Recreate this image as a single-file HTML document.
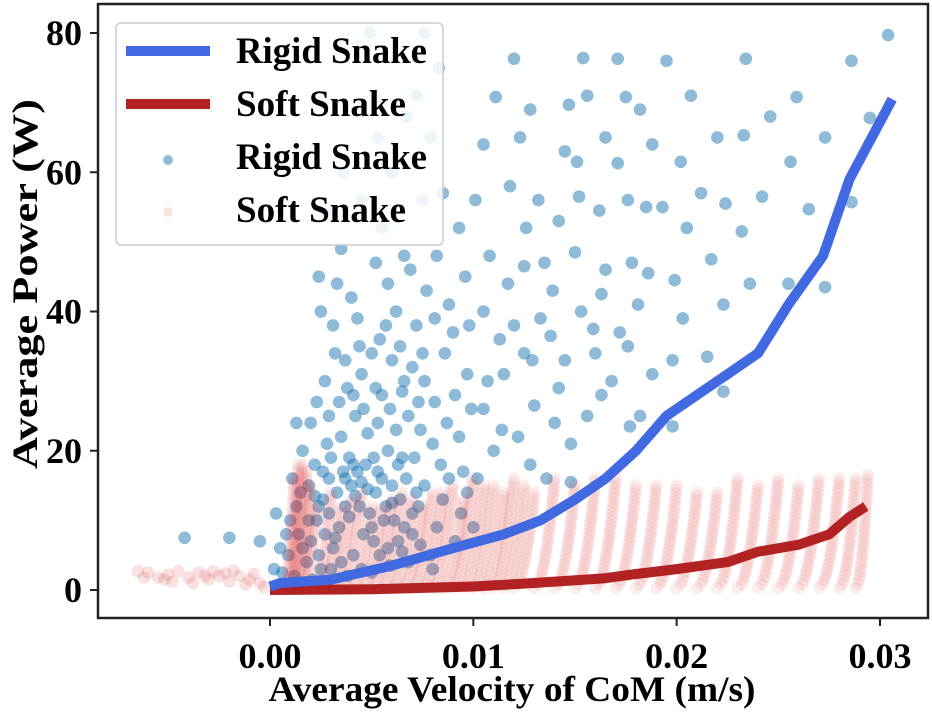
<!DOCTYPE html>
<html><head><meta charset="utf-8"><style>
html,body{margin:0;padding:0;background:#fff;}
svg{display:block;font-family:"Liberation Serif",serif;font-weight:bold;}
</style></head><body>
<svg id="chart" width="932" height="712">
<g id="points"></g>
<g id="lines"></g>
<rect x="98" y="4" width="830" height="614" fill="none" stroke="#222" stroke-width="2.5"/>
<g id="axes"></g>
<text x="512" y="701" text-anchor="middle" font-size="36" textLength="487" lengthAdjust="spacingAndGlyphs">Average Velocity of CoM (m/s)</text>
<text transform="translate(37,284) rotate(-90)" text-anchor="middle" font-size="36" textLength="370" lengthAdjust="spacingAndGlyphs">Average Power (W)</text>
<g>
<rect x="116" y="23" width="327" height="222" rx="5" fill="#fff" fill-opacity="0.85" stroke="#ccc" stroke-width="1.5"/>
<g><line x1="126" y1="51" x2="210" y2="51" stroke="#4169e1" stroke-width="10"/><text x="236" y="63" font-size="37" textLength="191" lengthAdjust="spacingAndGlyphs">Rigid Snake</text></g>
<g><line x1="126" y1="104" x2="210" y2="104" stroke="#b22222" stroke-width="10"/><text x="236" y="116" font-size="37" textLength="170" lengthAdjust="spacingAndGlyphs">Soft Snake</text></g>
<g><circle cx="168" cy="160" r="5" fill="#1f77b4" fill-opacity="0.5"/><text x="236" y="169" font-size="37" textLength="191" lengthAdjust="spacingAndGlyphs">Rigid Snake</text></g>
<g><circle cx="168" cy="212" r="5" fill="#d62728" fill-opacity="0.12"/><text x="236" y="222" font-size="37" textLength="170" lengthAdjust="spacingAndGlyphs">Soft Snake</text></g>
</g>
</svg>
<script>
// velocities in mm/s (x1e-3 m/s), power in W
const xTicks=[0,10,20,30];
const xTickLabels=["0.00","0.01","0.02","0.03"];
const yTicks=[0,20,40,60,80];
const yTickLabels=["0","20","40","60","80"];
const rigidLine=[[0,0.5],[0.5,1],[3,1.5],[6,3.5],[9,6],[11.5,8],[13.3,10],[15,13],[16.5,16],[18,20],[19.5,25],[21,28],[22.5,31],[24,34],[25.5,41],[27.2,48],[28.5,59],[30.6,70.5]];
const softLine=[[0,0],[5,0.1],[10,0.5],[13,1],[16.5,1.7],[18,2.3],[20,3],[22.5,4],[24,5.5],[26,6.5],[27.5,8],[28.5,10.5],[29.3,12]];
const rigidPoints=[[15.4,76.4],[17.1,76.3],[19.5,76],[23.4,76.3],[28.6,76],[30.4,79.7],[12,76.3],
[11.1,70.8],[15.6,71],[17.5,70.8],[20.7,71],[25.9,70.8],[12.8,69],[18.2,69],[24.6,68],[14.7,69.7],
[12.3,65],[14.5,63],[16.5,65],[18.8,64],[22,65],[23.3,65.3],[25.6,61.5],[27.3,65],[29.5,67.8],[10.5,64],[20.2,61.5],[17.1,61.3],[15.1,61.5],
[11.8,58],[13.2,56],[15.2,56.5],[17.6,56],[19.3,55],[21.2,57],[22.4,55.5],[24.2,56.5],[26.5,54.7],[28.6,55.7],[10.1,56],[12.6,52],[14.2,53],[16.2,54.5],[18.5,55],[20.5,52],[23.2,51.5],
[10.8,48],[12.5,46.5],[13.5,47],[15,48.5],[16.5,46],[17.8,47],[19.9,44.5],[21.7,47.5],[23.6,44],[25.5,44],[27.3,43.5],[11.7,44],[13.9,43],[16.3,42.5],[18.6,45.5],[20.3,39],[22.3,41],
[10.5,40],[11.3,36],[12,38],[12.9,33],[13.8,36.5],[14.5,33],[15.3,40],[16,34],[17.2,37],[18.8,31],[19.8,33],[21.5,33.5],[22.3,28.5],[10.7,30],[11.5,31],[12.5,34],[14.2,29],[16.8,30],[17.6,35],[18.1,41],[13.3,39],[15.9,37.5],
[10.5,26],[11.4,23],[12.2,22],[13,26.5],[14,24],[14.8,21],[15.6,25],[16.3,28],[17.7,23.5],[18.2,25],[19.8,23.5],[12.8,18],[11,20],[13.6,16],[14.8,15.5],[10.2,16],
[4.9,80],[7.6,80],[8.3,75],[7.2,71],[6.7,68],[5.3,65],[7.9,65],[3.6,60],[6,60],[4.5,56],[7.5,56],[8.5,57],[2.9,54],[5.5,52],[3.5,49],[6.6,48],[8.2,48],[9.3,52],[2.4,45],[3.3,44],[4,42],[5.2,47],[5.8,44],[6.9,46],[7.7,43],[8.8,41],[9.6,45],[2.5,40],[3.1,38],[4.3,39],[5.7,38],[6.2,40],[7.2,38],[8.1,39],[9,37],[9.8,38],
[1.3,24],[2,24],[2.7,30],[3.2,34],[3.8,29],[4.5,31],[5,34],[5.5,28],[6,33],[6.5,28.5],[7,32],[7.6,30],[8.1,27],[8.6,34],[9.1,28],[9.7,31],[2.3,27],[3.5,22],[4.2,25],[4.8,22.5],[5.3,24],[6.2,23],[6.8,25],[7.4,23],[8,21],[8.7,24],[9.3,22],[9.9,26],[2.8,21],[3.9,19],[5.8,20],[7.1,19],[8.4,18],[9.5,17],[1.6,20],[2.2,18],
[0.2,3],[0.5,6],[0.8,8],[1,10],[1.3,12],[1.5,14],[1.8,4],[2,7],[2.3,10],[2.6,13],[2.9,16],[3.1,6],[3.4,9],[3.7,12],[4,15],[4.3,17],[4.6,8],[4.9,11],[5.2,14],[5.5,16],[5.8,6],[6.1,10],[6.4,13],[6.7,16],[7,8],[7.3,12],[7.6,15],[7.9,5],[8.2,9],[8.5,13],[8.8,16],[9.1,7],[9.4,11],[9.7,14],[10,9],[1.2,2],[2.5,3],[3.5,4],[4.5,3],[-0.5,7],[-2,7.5],[-4.2,7.5],[0.3,11],[1.1,16],[3,19],[4.7,18],[6.5,19],[2.1,1.5],[1.6,6],[4.1,5],[5.4,5],[6.8,4],[8,3],
[2.4,12],[3.3,14],[4.4,12],[5,9],[6.3,7],[7.2,14],[3.6,17],[5.1,19],[6,15],[2.7,8],[4.8,14.5],[5.7,12],
[1.9,10],[2.2,13.5],[2.9,11],[3.2,7.5],[3.9,10.5],[4.2,13.5],[4.5,15.5],[5.1,7],[5.6,10],[6,12.5],[6.6,9],[7,11],[3.7,16],[4.1,18],[5.3,17],[6.3,18],[2.6,17],[1.9,15],[0.9,5],[1.4,8],[0.6,2.5],[2.4,5],[3,3],[3.8,2],[5,2.5],[5.9,3.5],[6.5,5.5],[7.4,6.5],[2.9,25],[3.4,27],[4.1,28],[4.6,26],[5.2,29],[5.9,26],[6.6,30],[7.3,27],[3.7,33],[4.4,35],[5.4,36],[6.4,35],[7.5,34]];
const softPoints=[[-6.5,2.7],[-6,2.5],[-5.5,1.8],[-5,2.2],[-4.5,2.7],[-4,1.8],[-3.5,2.5],[-3,1.5],[-2.5,2],[-2,1.2],[-1.5,2],[-1,1.5],[-0.5,1],[-5.2,1.5],[-3.8,1],[-2.8,2.7],[-1.8,2.8],[-6.2,1.8],[-4.8,1.2],[-3.2,2],[-2.2,2.4],[-1.2,0.8],[-0.8,2.3],[-0.3,0.4]];
// streaks: [v at bottom, v at top, top power]
const softStreaks=[[0.9,1.4,18],[1.2,1.8,17],[0.7,1.2,16],[1.0,1.6,18],[1.4,2,15],[1.6,2.3,12],[2.2,3,14],[2.5,3.5,12],[3,4,13],[3.5,4.5,14],[4,5,12],[4.5,5.5,12],[5,6,13],[5.5,6.5,14],[6,7,13],[6.5,7.5,12],[7,8,14],[7.5,8.5,14],[8,9,15],[8.5,9.5,13],[9,10,16],[9.5,10.5,15],[10,11,15],[10.5,11.5,14],[11,12,16],[11.5,12.5,15],[12,13,14],[13,14,16],[14,15,15],[15,16,16],[16,17,16],[17,18,15],[18,19,15],[19,20,15],[20,21,14],[21,22,14],[22,23,16],[23,24,15],[24,25,16],[25,26,15],[26,27,16],[27,28,16],[28,28.8,16],[28.8,29.4,16.5]];

const X0=270, XS=20.333, Y0=590, YS=6.9625;
const xs=v=>X0+v*XS, ys=p=>Y0-p*YS;
const NS="http://www.w3.org/2000/svg";
const ptsG=document.getElementById('points'), lnG=document.getElementById('lines'), axG=document.getElementById('axes');
function mk(tag,attrs,parent){const e=document.createElementNS(NS,tag);for(const k in attrs)e.setAttribute(k,attrs[k]);parent.appendChild(e);return e;}
rigidPoints.forEach(d=>{
  const c=mk('circle',{cx:xs(d[0]),cy:ys(d[1]),r:6.3,fill:'#1f77b4','fill-opacity':0.5},ptsG);
  
  
});
softPoints.forEach(d=>{
  const c=mk('circle',{cx:xs(d[0]),cy:ys(d[1]),r:6.3,fill:'#d62728','fill-opacity':0.14},ptsG);
  
  
});
softStreaks.forEach(s=>{
  const x1=xs(s[0]), y1=ys(0.3), x2=xs(s[1]), y2=ys(s[2]);
  const n=Math.max(2,Math.round(Math.hypot(x2-x1,y2-y1)/4));
  for(let i=0;i<=n;i++){
    const t=i/n;
    const c=mk('circle',{cx:x1+(x2-x1)*Math.sqrt(t),cy:y1+(y2-y1)*t,r:6.3,fill:'#d62728','fill-opacity':0.08},ptsG);
    
    
  }
});
function path(arr){return arr.map((d,i)=>(i?'L':'M')+xs(d[0]).toFixed(1)+','+ys(d[1]).toFixed(1)).join(' ');}
const sl=mk('path',{d:path(softLine),fill:'none',stroke:'#b22222','stroke-width':10,'stroke-linejoin':'round'},lnG);


const rl=mk('path',{d:path(rigidLine),fill:'none',stroke:'#4169e1','stroke-width':10,'stroke-linejoin':'round'},lnG);


xTicks.forEach((t,i)=>{
  const l=mk('line',{x1:xs(t),x2:xs(t),y1:618,y2:626,stroke:'#222','stroke-width':2},axG);
  
  
  const tx=mk('text',{x:xs(t),y:668,'text-anchor':'middle','font-size':36},axG);
  tx.textContent=xTickLabels[i];
  
  
});
yTicks.forEach((t,i)=>{
  const l=mk('line',{x1:90,x2:98,y1:ys(t),y2:ys(t),stroke:'#222','stroke-width':2},axG);
  
  
  const tx=mk('text',{x:82,y:ys(t)+12,'text-anchor':'end','font-size':36},axG);
  tx.textContent=yTickLabels[i];
  
  
});
</script>
</body></html>
